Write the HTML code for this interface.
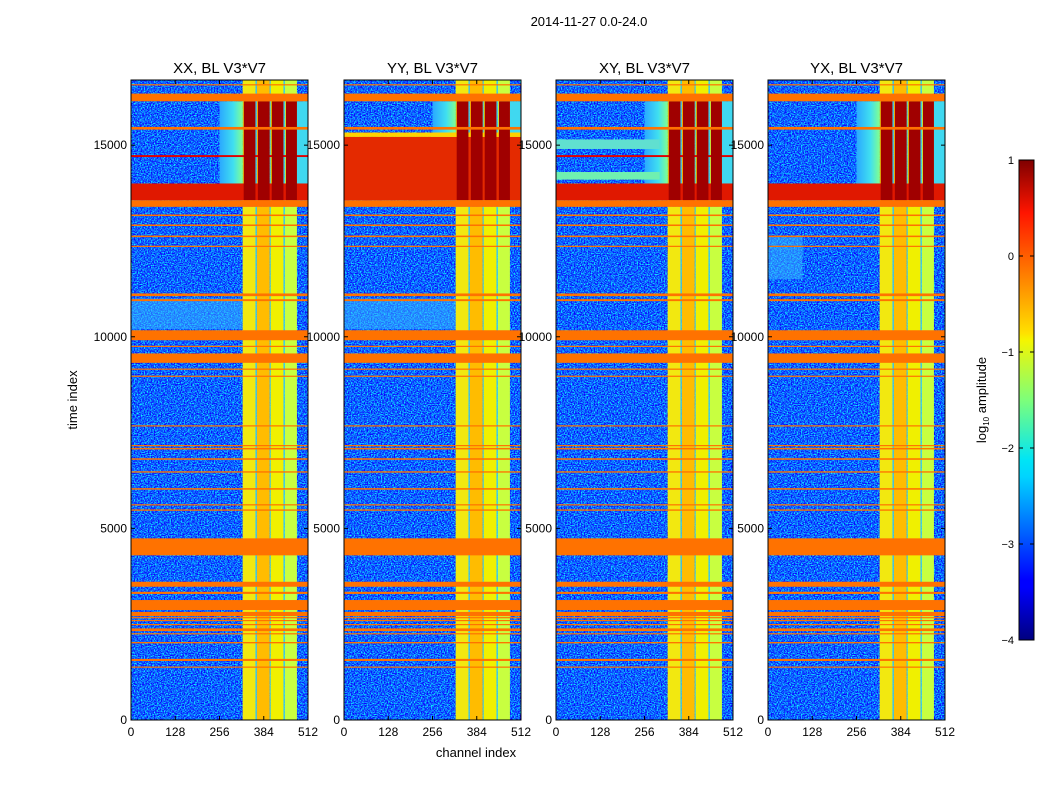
<!DOCTYPE html>
<html><head><meta charset="utf-8"><style>
body{margin:0;background:#fff;}
svg{display:block;font-family:"Liberation Sans",sans-serif;}
</style></head><body>
<svg id="fig" width="1050" height="800" viewBox="0 0 1050 800" xmlns="http://www.w3.org/2000/svg">
<defs>
<filter id="noise" x="0" y="0" width="100%" height="100%" color-interpolation-filters="sRGB">
<feTurbulence type="fractalNoise" baseFrequency="0.7 0.9" numOctaves="2" seed="3"/>
<feColorMatrix type="matrix" values="0 0 0 0 0.05  2.4 0 0 0 -0.82  0 0 0 0 1  0 0 0 0 1"/>
</filter>
<linearGradient id="cyanfade" x1="0" y1="0" x2="1" y2="0">
<stop offset="0" stop-color="#2aa8ff"/><stop offset="0.6" stop-color="#40e0f0"/><stop offset="1" stop-color="#80ff90"/>
</linearGradient>
<linearGradient id="jet" x1="0" y1="1" x2="0" y2="0">
<stop offset="0" stop-color="#00007f"/><stop offset="0.11" stop-color="#0000ff"/>
<stop offset="0.125" stop-color="#0000ff"/><stop offset="0.34" stop-color="#00d4ff"/>
<stop offset="0.375" stop-color="#00e5f5"/><stop offset="0.5" stop-color="#7dff7a"/>
<stop offset="0.625" stop-color="#f5f500"/><stop offset="0.64" stop-color="#ffe000"/>
<stop offset="0.89" stop-color="#ff1500"/><stop offset="1" stop-color="#7f0000"/>
</linearGradient>
</defs>
<text x="589" y="26" font-size="13" text-anchor="middle">2014-11-27 0.0-24.0</text>
<text transform="translate(77,400) rotate(-90)" font-size="13" text-anchor="middle">time index</text>
<text x="476" y="757" font-size="13" text-anchor="middle">channel index</text>
<g id="panels"></g>
<g id="cbar"></g>
</svg>
<script>
// ---- data ----
const panelTitles = ["XX, BL V3*V7","YY, BL V3*V7","XY, BL V3*V7","YX, BL V3*V7"];
const xTicks = [0,128,256,384,512];
const yTicks = [0,5000,10000,15000];
const cbTicks = [1,0,-1,-2,-3,-4];
const cbLabels = ["1","0","\u22121","\u22122","\u22123","\u22124"];
// flagged time ranges (orange rows)
const flagBands = [[16570,16590],[16145,16345],[15405,15475],[13390,13563],[13150,13190],[12890,12930],[12600,12640],[12345,12375],[11060,11130],[10930,10980],[9910,10170],[9735,9765],[9320,9565],[9140,9170],[8955,8985],[7660,7690],[7150,7175],[7060,7100],[6790,6830],[6455,6490],[6010,6050],[5600,5630],[5460,5495],[4296,4740],[3477,3607],[3290,3345],[2870,3130],[2710,2820],[2655,2685],[2580,2610],[2475,2505],[2320,2390],[2235,2265],[2000,2035],[1540,1595],[1370,1395]];
// RFI channel stripes [ch0,ch1]
const stripeCh = [[323,360],[364,401],[404,441],[445,480]];
const stripeColors = ["#f2e810","#ffbc00","#f0f000","#c8ff40"];
const gapCh = [[360,364],[401,404],[441,445]];
// per-panel extra regions [ch0,ch1,t0,t1,color]
const panelRegions = [
 [[0,323,10200,11000,"#38b8ff"],[256,323,13563,16145,"url(#cyanfade)"],[0,512,13563,14000,"#e01800"],[0,512,14690,14740,"#e00000"]],
 [[0,323,10200,11000,"#38b8ff"],[256,323,13563,16145,"url(#cyanfade)"],[0,512,13563,15215,"#e42a00"],[0,512,15215,15330,"#ffd000"]],
 [[256,323,13563,16145,"url(#cyanfade)"],[0,300,14900,15150,"#60e0d0"],[0,300,14100,14300,"#70f0b0"],[0,512,13563,14000,"#e01800"],[0,512,14690,14740,"#e00000"]],
 [[0,100,11500,12600,"#38b8ff"],[256,323,13563,16145,"url(#cyanfade)"],[0,512,13563,14000,"#e01800"]]
];
const panelX = [131,344,556,768];
// ---- layout ----
const W=177, Y0=80, Y1=720, TMAX=16700, CMAX=512;
const NS="http://www.w3.org/2000/svg";
function mk(t,a,p){const e=document.createElementNS(NS,t);for(const k in a)e.setAttribute(k,a[k]);p.appendChild(e);return e;}
const ty=t=>Y1-(t/TMAX)*(Y1-Y0);
const root=document.getElementById("panels");
panelTitles.forEach((title,i)=>{
 const x0=panelX[i], cx=c=>x0+c/CMAX*W;
 const g=mk("g",{},root);
 
 
 const cp=mk("clipPath",{id:"cp"+i},g); mk("rect",{x:x0,y:Y0,width:W,height:Y1-Y0},cp);
 const img=mk("g",{"clip-path":"url(#cp"+i+")"},g);
 
 
 mk("rect",{x:x0,y:Y0,width:W,height:Y1-Y0,filter:"url(#noise)"},img);
 gapCh.forEach(s=>{
  const r=mk("rect",{x:cx(s[0]),y:Y0,width:cx(s[1])-cx(s[0]),height:Y1-Y0,fill:"#30d0ff"},img);
  
  
 });
 stripeCh.forEach((s,k)=>{
  const r=mk("rect",{x:cx(s[0]),y:ty(13390),width:cx(s[1])-cx(s[0]),height:ty(0)-ty(13390),fill:stripeColors[k]},img);
  
  
  const r2=mk("rect",{x:cx(s[0]),y:ty(16700),width:cx(s[1])-cx(s[0]),height:ty(13390)-ty(16700),fill:stripeColors[k]},img);
  
  
 });
 mk("rect",{x:cx(480),y:ty(16145),width:cx(512)-cx(480),height:ty(13563)-ty(16145),fill:"#40d8f0"},img);
 panelRegions[i].forEach(r=>{
  const e=mk("rect",{x:cx(r[0]),y:ty(r[3]),width:cx(r[1])-cx(r[0]),height:ty(r[2])-ty(r[3]),fill:r[4],opacity:r[4]=="#38b8ff"?0.55:1},img);
  
  
 });
 stripeCh.forEach(s=>{
  const e=mk("rect",{x:cx(s[0]+3),y:ty(16145),width:cx(s[1])-cx(s[0]+3),height:ty(13563)-ty(16145),fill:"#a00000"},img);
  
  
 });
 flagBands.forEach(b=>{
  const e=mk("rect",{x:x0,y:ty(b[1]),width:W,height:Math.max(1.2,ty(b[0])-ty(b[1])),fill:"#ff7200"},img);
  
  
 });
 mk("rect",{x:x0,y:Y0,width:W,height:Y1-Y0,fill:"none",stroke:"#000","stroke-width":1},g);
 const t=mk("text",{x:x0+W/2,y:73,"font-size":15,"text-anchor":"middle"},g); t.textContent=title;
 
 
 xTicks.forEach(v=>{
  const x=cx(v);
  mk("line",{x1:x,x2:x,y1:Y1,y2:Y1-4,stroke:"#000"},g); mk("line",{x1:x,x2:x,y1:Y0,y2:Y0+4,stroke:"#000"},g);
  const l=mk("text",{x:x,y:Y1+16,"font-size":12,"text-anchor":"middle"},g); l.textContent=v;
  
  
 });
 yTicks.forEach(v=>{
  const y=ty(v);
  mk("line",{x1:x0,x2:x0+4,y1:y,y2:y,stroke:"#000"},g); mk("line",{x1:x0+W,x2:x0+W-4,y1:y,y2:y,stroke:"#000"},g);
  const l=mk("text",{x:x0-4,y:y+4,"font-size":12,"text-anchor":"end"},g); l.textContent=v;
  
  
 });
});
// colorbar
const cb=document.getElementById("cbar");
const CB0=160, CB1=640, cby=v=>CB1-(v+4)/5*(CB1-CB0);
mk("rect",{x:1019,y:CB0,width:15,height:CB1-CB0,fill:"url(#jet)",stroke:"#000"},cb);
cbTicks.forEach((v,k)=>{
 const y=cby(v);
 mk("line",{x1:1019,x2:1023,y1:y,y2:y,stroke:"#000"},cb); mk("line",{x1:1034,x2:1030,y1:y,y2:y,stroke:"#000"},cb);
 const l=mk("text",{x:1014,y:y+4,"font-size":11,"text-anchor":"end"},cb); l.textContent=cbLabels[k];
 
 
});
const lab=mk("text",{transform:"translate(986,400) rotate(-90)","font-size":13,"text-anchor":"middle"},cb);


lab.innerHTML='log<tspan font-size="8" dy="3">10</tspan><tspan dy="-3"> amplitude</tspan>';
</script>
</body></html>
